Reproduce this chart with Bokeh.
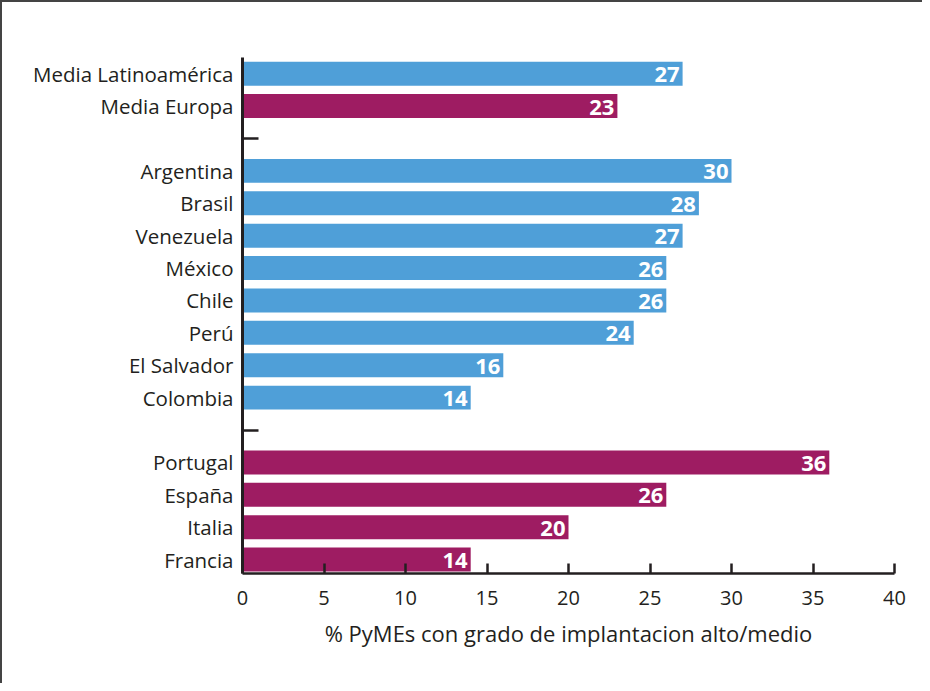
from bokeh.plotting import figure
from bokeh.models import FixedTicker, ColumnDataSource, Range1d
from bokeh.embed import file_html
from bokeh.resources import INLINE
from bokeh.core.properties import value

# ---- data ----
summary_names = ["Media Latinoamérica", "Media Europa"]
summary_values = [27, 23]
latam_names = ["Argentina", "Brasil", "Venezuela", "México", "Chile", "Perú", "El Salvador", "Colombia"]
latam_values = [30, 28, 27, 26, 26, 24, 16, 14]
europe_names = ["Portugal", "España", "Italia", "Francia"]
europe_values = [36, 26, 20, 14]
x_ticks = [0, 5, 10, 15, 20, 25, 30, 35, 40]
x_title = "% PyMEs con grado de implantacion alto/medio"

BLUE = "#4f9fd8"
PURPLE = "#9e1c62"
summary_colors = [BLUE, PURPLE]

# ---- build rows (top to bottom) with gap slots ----
rows = []
for n, v, c in zip(summary_names, summary_values, summary_colors):
    rows.append((n, v, c))
rows.append(None)
for n, v in zip(latam_names, latam_values):
    rows.append((n, v, BLUE))
rows.append(None)
for n, v in zip(europe_names, europe_values):
    rows.append((n, v, PURPLE))

nslots = len(rows)
names, vals, cols, ys, gap_ys = [], [], [], [], []
for i, r in enumerate(rows):
    y = nslots - i
    if r is None:
        gap_ys.append(y)
    else:
        names.append(r[0]); vals.append(r[1]); cols.append(r[2]); ys.append(y)

src = ColumnDataSource(dict(name=names, val=vals, color=cols, y=ys,
                            lbl=[str(v) for v in vals]))

FONT = "Open Sans"
TXT = "#231f20"

p = figure(width=922, height=683, output_backend="svg", toolbar_location=None,
           x_range=Range1d(0, 40), y_range=Range1d(0.57, nslots + 0.5),
           min_border_left=240, min_border_right=30, min_border_top=55,
           min_border_bottom=112,
           styles={"border-left": "2px solid #444", "border-top": "2px solid #444"})

p.hbar(y="y", left=0, right="val", height=0.74, color="color", line_color=None, source=src)
p.text(x="val", y="y", text="lbl", source=src, x_offset=-3, y_offset=1,
       text_align="right", text_baseline="middle", text_color="white",
       text_font=value(FONT), text_font_style="bold", text_font_size="22px")

p.grid.visible = False
p.outline_line_color = None
p.background_fill_color = "white"
p.border_fill_color = "white"

# x axis
xa = p.xaxis[0]
xa.ticker = FixedTicker(ticks=x_ticks)
xa.major_tick_in = 10
xa.major_tick_out = 0
xa.minor_tick_line_color = None
xa.axis_line_width = 2.5
xa.axis_line_color = TXT
xa.major_tick_line_width = 2.5
xa.major_tick_line_color = TXT
xa.major_label_text_font = FONT
xa.major_label_text_font_size = "20px"
xa.major_label_text_color = TXT
xa.major_label_standoff = 17
xa.axis_label = x_title
xa.axis_label_text_font = FONT
xa.axis_label_text_font_style = "normal"
xa.axis_label_text_font_size = "22px"
xa.axis_label_text_color = TXT
xa.axis_label_standoff = 10

# y axis
ya = p.yaxis[0]
ya.ticker = FixedTicker(ticks=ys, minor_ticks=gap_ys)
ya.major_label_overrides = {y: n for y, n in zip(ys, names)}
ya.major_tick_line_color = None
ya.major_tick_in = 0
ya.major_tick_out = 0
ya.minor_tick_in = 16
ya.minor_tick_out = 0
ya.minor_tick_line_width = 2.5
ya.minor_tick_line_color = TXT
ya.axis_line_width = 3
ya.axis_line_color = TXT
ya.major_label_text_font = FONT
ya.major_label_text_font_size = "20.5px"
ya.major_label_text_color = TXT
ya.major_label_standoff = 9

open("out.html", "w").write(file_html(p, INLINE))
